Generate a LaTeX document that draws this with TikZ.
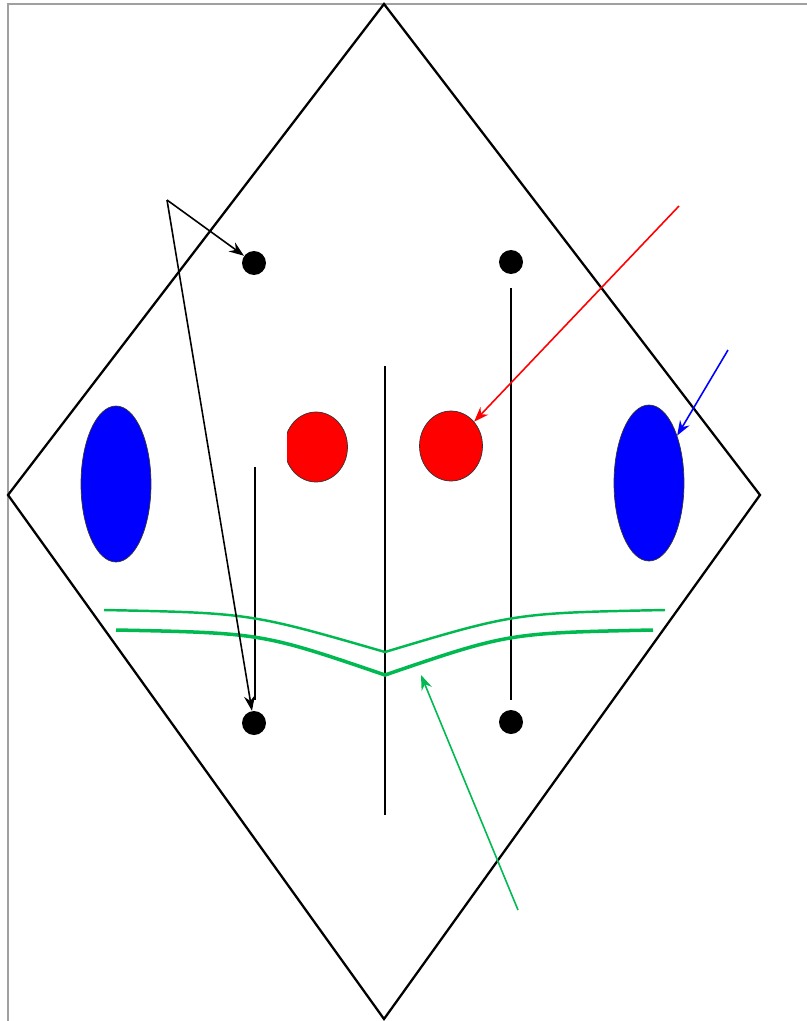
\documentclass[tikz,border=0pt]{standalone}
\usepackage{tikz}
\usetikzlibrary{shapes.geometric,arrows.meta}
\definecolor{cRed}{RGB}{255,0,0}
\definecolor{cBlue}{RGB}{0,0,255}
\definecolor{cGreen}{RGB}{0,185,80}
\definecolor{cFrame}{RGB}{160,160,160}
\tikzset{
  dotnode/.style={circle,fill=black,inner sep=0pt,minimum size=0.48cm},
  rednode/.style={ellipse,draw=black!80,thin,fill=cRed,inner sep=0pt,
                  minimum width=1.26cm,minimum height=1.4cm},
  bluenode/.style={ellipse,draw=black!80,thin,fill=cBlue,inner sep=0pt,
                   minimum width=1.4cm,minimum height=3.12cm},
  kite/.style={draw=black,line width=1.3pt,line join=miter},
  stem/.style={draw=black,line width=1.3pt},
  arr/.style={->,>={Stealth[length=3mm,width=2.2mm,inset=1mm]},line width=0.9pt,color=black},
  redarr/.style={arr,color=cRed},
  bluarr/.style={arr,color=cBlue},
  grnarr/.style={arr,color=cGreen},
  wing/.style={draw=cGreen,line width=1.4pt}
}
\begin{document}
\begin{tikzpicture}[x=0.02cm,y=-0.02cm]
  \useasboundingbox (0,0) rectangle (807,1021);

  % frame
  \draw[cFrame,line width=1.2pt] (8,1021) -- (8,4) -- (807,4);

  % kite outline
  \draw[kite] (384,4) -- (760,495) -- (384,1019) -- (8,495) -- cycle;

  % dots
  \node[dotnode] (dtl) at (254,263) {};
  \node[dotnode] (dtr) at (511,262) {};
  \node[dotnode] (dbl) at (254,723) {};
  \node[dotnode] (dbr) at (511,722) {};

  % sticks
  \draw[stem] (255,467) -- (255,700);
  \draw[stem] (511,288) -- (511,700);
  \draw[stem] (385,366) -- (385,815);

  % eyes
  \begin{scope}
    \clip (287,380) rectangle (370,510);
    \node[rednode] (eyel) at (316,447) {};
  \end{scope}
  \node[rednode] (eyer) at (451,446) {};
  \node[bluenode] (earl) at (116,484) {};
  \node[bluenode] (earr) at (649,483) {};

  % green wings
  \draw[wing] (104,610) .. controls (250,613) .. (385,652)
              .. controls (515,613) .. (665,610);
  \draw[wing,line width=2pt] (116,630) .. controls (262,633) .. (385,675)
              .. controls (508,633) .. (653,630);

  % pointers
  \coordinate (fork) at (167,200);
  \coordinate (redsrc) at (679,206);
  \coordinate (blusrc) at (728,350);
  \coordinate (grnsrc) at (518,910);
  \coordinate (grntip) at (421,675);
  \draw[arr] (fork) -- (dtl);
  \draw[arr] (fork) -- (dbl);
  \draw[redarr] (redsrc) -- (eyer);
  \draw[bluarr] (blusrc) -- (earr);
  \draw[grnarr] (grnsrc) -- (grntip);

\end{tikzpicture}
\end{document}
